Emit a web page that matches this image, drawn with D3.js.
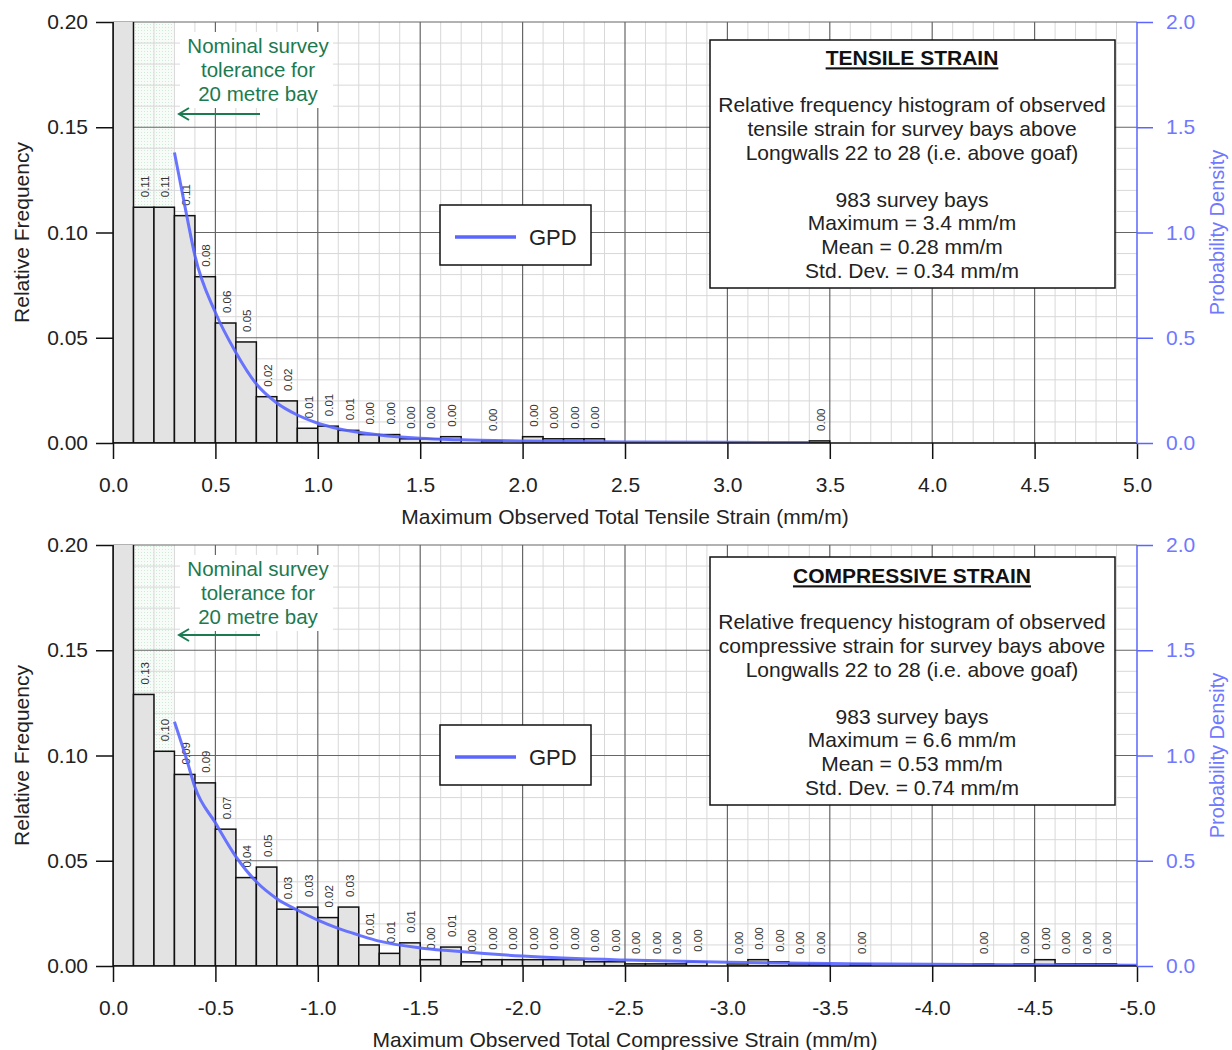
<!DOCTYPE html>
<html>
<head>
<meta charset="utf-8">
<script src="https://cdn.jsdelivr.net/npm/d3@7"></script>
<style>
  body { margin: 0; background: #fff; }
  svg { display: block; font-family: "Liberation Sans", Arial, sans-serif; }
</style>
</head>
<body>
<svg id="chart" width="1232" height="1050"></svg>
<script>
// ---------------- DATA ----------------
// lower edge of each 0.1 mm/m histogram bin (magnitude of strain)
const binLower = [0.0,0.1,0.2,0.3,0.4,0.5,0.6,0.7,0.8,0.9,1.0,1.1,1.2,1.3,1.4,1.5,1.6,1.7,1.8,1.9,
                  2.0,2.1,2.2,2.3,2.4,2.5,2.6,2.7,2.8,2.9,3.0,3.1,3.2,3.3,3.4,3.5,3.6,3.7,3.8,3.9,
                  4.0,4.1,4.2,4.3,4.4,4.5,4.6,4.7,4.8,4.9];

// relative frequency of tensile strain per bin
const tensileFreq = [0.395,0.112,0.112,0.108,0.079,0.057,0.048,0.022,0.020,0.007,
                     0.008,0.006,0.004,0.004,0.002,0.002,0.003,0,0.001,0,
                     0.003,0.002,0.002,0.002,0,0,0,0,0,0,
                     0,0,0,0,0.001,0,0,0,0,0,
                     0,0,0,0,0,0,0,0,0,0];

// relative frequency of compressive strain per bin
const compressiveFreq = [0.25,0.129,0.102,0.091,0.087,0.065,0.042,0.047,0.027,0.028,
                         0.023,0.028,0.010,0.006,0.011,0.003,0.009,0.002,0.003,0.003,
                         0.003,0.003,0.003,0.002,0.002,0.001,0.001,0.001,0.002,0,
                         0.001,0.003,0.002,0.001,0.001,0,0.001,0,0,0,
                         0,0,0.001,0,0.001,0.003,0.001,0.001,0.001,0];

// GPD probability density curves
const tensileGpdX = [0.30,0.36,0.40,0.50,0.60,0.70,0.80,0.90,1.00,1.10,1.30,1.50,1.70,2.00,2.50,3.00,3.40];
const tensileGpdY = [1.38,1.08,0.89,0.62,0.43,0.28,0.19,0.133,0.094,0.068,0.038,0.022,0.015,0.010,0.005,0.003,0.002];

const compressiveGpdX = [0.30,0.36,0.40,0.50,0.60,0.70,0.80,0.90,1.00,1.10,1.20,1.30,1.50,1.65,2.00,2.50,3.00,3.50,4.00,4.50,5.00,5.20];
const compressiveGpdY = [1.16,0.98,0.85,0.68,0.52,0.40,0.32,0.266,0.218,0.179,0.147,0.118,0.086,0.072,0.047,0.028,0.018,0.012,0.008,0.006,0.004,0.0035];

// axis tick labels
const xTicks = [0.0,0.5,1.0,1.5,2.0,2.5,3.0,3.5,4.0,4.5,5.0];
const tensileTickLabels = ["0.0","0.5","1.0","1.5","2.0","2.5","3.0","3.5","4.0","4.5","5.0"];
const compressiveTickLabels = ["0.0","-0.5","-1.0","-1.5","-2.0","-2.5","-3.0","-3.5","-4.0","-4.5","-5.0"];
const yTicks = [0.00,0.05,0.10,0.15,0.20];
const yTickLabels = ["0.00","0.05","0.10","0.15","0.20"];
const densTicks = [0.0,0.5,1.0,1.5,2.0];
const densTickLabels = ["0.0","0.5","1.0","1.5","2.0"];

// texts
const tensileBoxLines = ["Relative frequency histogram of observed","tensile strain for survey bays above","Longwalls 22 to 28 (i.e. above goaf)","","983 survey bays","Maximum = 3.4 mm/m","Mean = 0.28 mm/m","Std. Dev. = 0.34 mm/m"];
const compressiveBoxLines = ["Relative frequency histogram of observed","compressive strain for survey bays above","Longwalls 22 to 28 (i.e. above goaf)","","983 survey bays","Maximum = 6.6 mm/m","Mean = 0.53 mm/m","Std. Dev. = 0.74 mm/m"];
const annotationLines = ["Nominal survey","tolerance for","20 metre bay"];
const binWidth = 0.1;

// ---------------- DRAW ----------------
const svg = d3.select("#chart");
const BLUE = "#5a66ff";
const BLUE_TXT = "#6f78ff";
const GREEN = "#1b7a50";
const FONT = "Liberation Sans, Arial, sans-serif";

const defs = svg.append("defs");
const pat = defs.append("pattern").attr("id","dots").attr("patternUnits","userSpaceOnUse")
  .attr("width",3).attr("height",3);
pat.append("rect").attr("width",3).attr("height",3).attr("fill","#f7fcf8");
pat.append("rect").attr("width",1).attr("height",1).attr("fill","#cdebd6");

function drawPanel(cfg) {
  const left = 113, right = 1137, top = cfg.top, bottom = cfg.top + 421;
  const x = d3.scaleLinear().domain([0,5]).range([left,right]);
  const y = d3.scaleLinear().domain([0,0.2]).range([bottom,top]);
  const yd = d3.scaleLinear().domain([0,2]).range([bottom,top]);
  const g = svg.append("g");

  const clipId = "clip" + cfg.id;
  defs.append("clipPath").attr("id",clipId).append("rect")
    .attr("x",left).attr("y",top).attr("width",right-left).attr("height",bottom-top);

  // survey tolerance shading
  g.append("rect").attr("x",x(0.1)).attr("y",top).attr("width",x(0.3)-x(0.1)).attr("height",bottom-top)
    .attr("fill","url(#dots)");

  // grid
  const minorX = d3.range(0,51).map(i=>i/10).filter(v=>Math.round(v*10)%5!==0);
  const majorX = xTicks.slice(1,-1);
  const minorY = d3.range(0,21).map(i=>i/100).filter(v=>Math.round(v*100)%5!==0);
  const majorY = yTicks.slice(1);
  g.selectAll(".gxm").data(minorX).enter().append("line")
    .attr("x1",d=>x(d)).attr("x2",d=>x(d)).attr("y1",top).attr("y2",bottom)
    .attr("stroke","#d8d8d8").attr("stroke-width",1);
  g.selectAll(".gym").data(minorY).enter().append("line")
    .attr("x1",left).attr("x2",right).attr("y1",d=>y(d)).attr("y2",d=>y(d))
    .attr("stroke","#d8d8d8").attr("stroke-width",1);
  g.selectAll(".gxM").data(majorX).enter().append("line")
    .attr("x1",d=>x(d)).attr("x2",d=>x(d)).attr("y1",top).attr("y2",bottom)
    .attr("stroke","#666").attr("stroke-width",1.2);
  g.selectAll(".gyM").data(majorY).enter().append("line")
    .attr("x1",left).attr("x2",right).attr("y1",d=>y(d)).attr("y2",d=>y(d))
    .attr("stroke","#666").attr("stroke-width",1.2);

  // annotation
  const ann = g.append("g");
  ann.append("rect").attr("x",180).attr("y",top+10).attr("width",153).attr("height",76).attr("fill","#fff");
  ann.selectAll("text").data(annotationLines).enter().append("text")
    .attr("x",258).attr("y",(d,i)=>top+31+i*24).attr("text-anchor","middle")
    .attr("font-size",20.5).attr("fill",GREEN).text(d=>d);
  const ay = top + cfg.arrowOff;
  ann.append("line").attr("x1",260).attr("x2",179).attr("y1",ay).attr("y2",ay)
    .attr("stroke",GREEN).attr("stroke-width",2);
  ann.append("path").attr("d",`M${189},${ay-6} L${179},${ay} L${189},${ay+6}`)
    .attr("fill","none").attr("stroke",GREEN).attr("stroke-width",2);

  // bars
  const data = binLower.map((b,i)=>({b, v: cfg.freq[i]})).filter(d=>d.v>0);
  const bars = g.append("g").attr("clip-path",`url(#${clipId})`);
  bars.selectAll("rect").data(data).enter().append("rect")
    .attr("x",d=>x(d.b)).attr("width",d=>x(d.b+binWidth)-x(d.b))
    .attr("y",d=>y(d.v)).attr("height",d=>bottom-y(d.v))
    .attr("fill","#e3e3e3").attr("stroke","#111").attr("stroke-width",1.5);

  // bar labels
  const fmt = d3.format(".2f");
  g.selectAll(".bl").data(data.filter(d=>d.v<0.2)).enter().append("text")
    .attr("transform",d=>`translate(${x(d.b+binWidth/2)+1},${y(d.v)-10}) rotate(-90)`)
    .attr("dy","0.35em").attr("font-size",11.5).attr("fill","#333").text(d=>fmt(d.v));

  // GPD curve
  const pts = cfg.gx.map((v,i)=>[v,cfg.gy[i]]);
  g.append("path").datum(pts).attr("clip-path",`url(#${clipId})`)
    .attr("d",d3.line().x(d=>x(d[0])).y(d=>yd(d[1])).curve(d3.curveMonotoneX))
    .attr("fill","none").attr("stroke",BLUE).attr("stroke-width",3).attr("stroke-opacity",0.9);

  // left axis
  const lAx = g.append("g").attr("transform",`translate(${left},0)`);
  lAx.call(d3.axisLeft(y).tickValues(minorY).tickSize(7).tickFormat(""));
  lAx.call(d3.axisLeft(y).tickValues(yTicks).tickSize(17).tickPadding(8)
    .tickFormat((d,i)=>yTickLabels[i]));
  lAx.selectAll("line,path").attr("stroke","#111").attr("stroke-width",1.5);
  lAx.select(".domain").attr("d",`M0,${top}V${bottom}`);
  lAx.selectAll("text").attr("font-size",21).attr("fill","#222").attr("font-family",FONT);

  // bottom axis
  const bAx = g.append("g").attr("transform",`translate(0,${bottom})`);
  bAx.call(d3.axisBottom(x).tickValues(minorX).tickSize(8).tickFormat(""));
  bAx.call(d3.axisBottom(x).tickValues(xTicks).tickSize(16).tickPadding(18)
    .tickFormat((d,i)=>cfg.tickLabels[i]));
  bAx.selectAll("line,path").attr("stroke","#111").attr("stroke-width",1.5);
  bAx.select(".domain").attr("d",`M${left},0H${right}`);
  bAx.selectAll("text").attr("font-size",21).attr("fill","#222").attr("font-family",FONT);

  // right axis
  const minorD = d3.range(0,21).map(i=>i/10).filter(v=>Math.round(v*10)%5!==0);
  const rAx = g.append("g").attr("transform",`translate(${right},0)`);
  rAx.call(d3.axisRight(yd).tickValues(minorD).tickSize(7).tickFormat(""));
  rAx.call(d3.axisRight(yd).tickValues(densTicks).tickSize(16).tickPadding(13)
    .tickFormat((d,i)=>densTickLabels[i]));
  rAx.selectAll("line,path").attr("stroke",BLUE).attr("stroke-width",1.5);
  rAx.select(".domain").attr("d",`M0,${top}V${bottom}`);
  rAx.selectAll("text").attr("font-size",21).attr("fill",BLUE_TXT).attr("font-family",FONT);

  // axis titles
  g.append("text").attr("transform",`translate(22,${(top+bottom)/2}) rotate(-90)`)
    .attr("text-anchor","middle").attr("dy","0.35em").attr("font-size",21).attr("fill","#222").text("Relative Frequency");
  g.append("text").attr("transform",`translate(1217,${(top+bottom)/2}) rotate(-90)`)
    .attr("text-anchor","middle").attr("dy","0.35em").attr("font-size",20).attr("fill",BLUE_TXT).text("Probability Density");
  g.append("text").attr("x",625).attr("y",bottom+81).attr("text-anchor","middle")
    .attr("font-size",21).attr("fill","#222").text(cfg.xTitle);

  // legend
  const lg = g.append("g");
  const ly = top + cfg.legendOff;
  lg.append("rect").attr("x",440).attr("y",ly).attr("width",151).attr("height",60)
    .attr("fill","#fff").attr("stroke","#111").attr("stroke-width",1.5);
  lg.append("line").attr("x1",455).attr("x2",516).attr("y1",ly+32).attr("y2",ly+32)
    .attr("stroke",BLUE).attr("stroke-width",3.5);
  lg.append("text").attr("x",529).attr("y",ly+32).attr("dy","0.35em").attr("font-size",22).attr("fill","#222").text("GPD");

  // info box
  const bx = 710, by = top + cfg.boxOff;
  const ib = g.append("g");
  ib.append("rect").attr("x",bx).attr("y",by).attr("width",405).attr("height",248)
    .attr("fill","#fff").attr("stroke","#111").attr("stroke-width",1.5);
  ib.append("text").attr("x",912).attr("y",by+cfg.titleOff).attr("dy","0.35em").attr("text-anchor","middle")
    .attr("font-size",21).attr("font-weight","bold").attr("text-decoration","underline").attr("fill","#111").text(cfg.boxTitle);
  ib.selectAll(".ln").data(cfg.boxLines).enter().append("text")
    .attr("x",912).attr("y",(d,i)=>by+65+i*23.6).attr("dy","0.35em").attr("text-anchor","middle")
    .attr("font-size",21).attr("fill","#222").text(d=>d);
}

drawPanel({id:"t", top:22, freq:tensileFreq, gx:tensileGpdX, gy:tensileGpdY, tickLabels:tensileTickLabels,
  xTitle:"Maximum Observed Total Tensile Strain (mm/m)", boxTitle:"TENSILE STRAIN", boxLines:tensileBoxLines,
  arrowOff:92, legendOff:183, boxOff:18, titleOff:18});
drawPanel({id:"c", top:545, freq:compressiveFreq, gx:compressiveGpdX, gy:compressiveGpdY, tickLabels:compressiveTickLabels,
  xTitle:"Maximum Observed Total Compressive Strain (mm/m)", boxTitle:"COMPRESSIVE STRAIN", boxLines:compressiveBoxLines,
  arrowOff:90, legendOff:180, boxOff:12, titleOff:19});
</script>
</body>
</html>
